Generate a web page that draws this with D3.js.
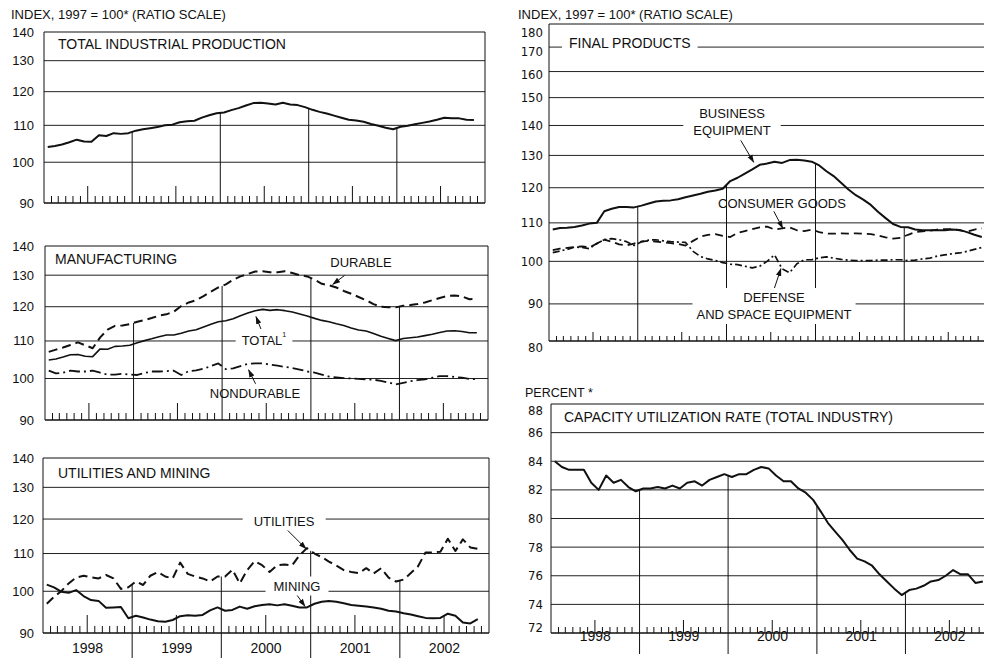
<!DOCTYPE html>
<html><head><meta charset="utf-8">
<script src="https://cdn.jsdelivr.net/npm/d3@7"></script>
<style>
body{margin:0;background:#fff}
svg{display:block}
text{font-family:"Liberation Sans",Arial,sans-serif;fill:#111}
</style>
</head><body>
<svg id="c" width="984" height="660"></svg>
<script>
// ---------------- DATA (monthly, Jan 1998 - Nov 2002) ----------------
const yearLabels = ["1998","1999","2000","2001","2002"];
const indexTicks = [90,100,110,120,130,140];
const finalTicks = [80,90,100,110,120,130,140,150,160,170,180];
const capTicks = [72,74,76,78,80,82,84,86,88];

const totalIP = [104.0,104.3,104.7,105.3,106.0,105.5,105.4,107.2,107.0,107.8,
 107.6,107.8,108.5,108.9,109.2,109.5,110.0,110.2,110.9,111.2,
 111.3,112.2,112.9,113.5,113.7,114.4,115.0,115.8,116.5,116.6,
 116.4,116.1,116.6,116.1,115.9,115.3,114.5,113.9,113.4,112.8,
 112.2,111.6,111.4,111.0,110.4,109.9,109.3,108.9,109.6,109.9,
 110.3,110.7,111.1,111.6,112.2,112.0,112.0,111.6,111.5];

const mfgDurable = [107.0,107.6,108.2,108.9,109.6,108.8,108.0,111.0,113.2,114.3,
 114.4,114.8,115.5,116.0,116.6,117.3,117.7,118.5,120.2,121.3,
 122.0,123.3,124.7,126.0,127.0,128.5,129.6,130.4,131.2,131.3,
 131.0,131.0,131.3,130.7,130.0,129.6,128.5,127.2,126.7,126.0,
 124.9,124.0,123.0,122.0,120.8,120.0,119.8,119.8,120.3,120.5,
 120.8,121.3,122.0,122.7,123.3,123.5,123.2,122.3,122.4];

const mfgTotal = [104.8,105.1,105.6,106.2,106.3,105.8,105.7,107.8,107.7,108.5,
 108.6,108.8,109.5,110.1,110.6,111.2,111.7,111.7,112.2,112.8,
 113.2,114.0,114.8,115.5,115.8,116.4,117.3,118.1,118.8,119.2,
 118.9,119.1,118.8,118.4,117.8,117.2,116.5,115.9,115.5,114.9,
 114.4,113.7,113.1,112.8,112.1,111.3,110.7,110.1,110.7,110.9,
 111.1,111.5,111.9,112.4,112.8,112.9,112.7,112.3,112.3];

const mfgNondurable = [102.0,101.3,101.5,102.0,101.8,101.8,102.0,101.5,101.0,101.0,
 101.2,101.0,100.9,101.4,101.8,101.8,101.9,102.0,100.9,101.9,
 102.1,102.5,103.2,103.9,102.4,102.6,103.2,103.8,103.9,103.9,
 103.6,103.3,103.0,102.7,102.3,101.8,101.5,101.0,100.5,100.3,
 100.1,100.0,99.9,99.8,99.7,99.4,99.0,98.5,98.9,99.3,
 99.6,99.8,100.2,100.6,100.6,100.4,100.2,99.9,99.8];

const utilities = [96.9,98.6,100.0,102.0,103.5,104.0,103.6,103.3,104.2,103.3,
 100.6,101.0,102.5,101.6,104.0,105.0,103.8,103.3,107.5,104.5,
 103.8,103.3,102.5,103.8,103.8,105.6,102.0,105.5,107.9,106.8,
 105.0,106.8,107.0,106.7,109.5,111.5,110.0,109.0,107.8,106.7,
 105.5,105.0,104.7,106.0,104.6,106.0,103.5,102.5,103.0,104.7,
 106.5,110.3,110.3,110.5,114.2,110.7,114.0,111.7,111.3];

const mining = [101.7,101.0,99.9,99.6,100.3,98.8,97.8,97.6,95.9,96.0,
 96.1,93.4,94.0,93.6,93.1,92.7,92.6,93.0,93.9,94.1,
 94.0,94.2,95.3,96.0,95.2,95.4,96.2,95.7,96.3,96.6,
 96.8,96.5,96.8,96.4,96.0,96.0,96.9,97.4,97.6,97.4,
 97.0,96.6,96.4,96.2,96.0,95.7,95.2,95.0,94.6,94.3,
 93.9,93.5,93.4,93.5,94.5,94.0,92.4,92.2,93.2];

const businessEquip = [108.2,108.6,108.7,108.9,109.3,109.8,110.0,113.2,113.9,114.4,
 114.4,114.3,114.8,115.4,116.0,116.2,116.3,116.6,117.2,117.7,
 118.2,118.8,119.2,119.7,122.0,123.0,124.3,125.6,127.0,127.4,
 128.0,127.6,128.5,128.6,128.4,128.0,126.8,125.0,123.5,121.5,
 119.5,117.8,116.5,115.0,113.0,111.3,109.7,108.9,108.8,108.2,
 108.0,108.0,108.0,108.0,108.2,108.1,107.5,106.8,106.2];

const consumerGoods = [102.8,103.2,103.4,103.6,103.8,103.5,104.5,105.5,105.0,104.3,
 104.0,104.5,105.0,105.2,105.0,104.8,104.6,104.4,104.0,105.2,
 106.3,106.8,107.0,106.5,106.2,107.3,107.8,108.3,108.8,109.0,
 108.2,108.5,108.8,108.0,107.8,108.2,107.5,107.1,107.1,107.2,
 107.1,107.2,107.1,107.0,106.6,106.1,105.8,106.0,106.8,107.5,
 107.7,107.9,108.2,108.3,108.3,108.0,107.6,108.2,108.5];

const defenseSpace = [102.2,102.6,103.0,103.6,103.5,103.2,104.5,105.5,105.8,105.5,
 105.0,104.0,105.0,105.4,105.5,105.2,105.0,104.9,104.8,102.5,
 101.2,100.6,100.2,99.7,99.3,99.2,98.8,98.4,98.8,100.0,
 101.6,98.2,97.2,99.4,100.4,100.4,100.9,101.1,100.8,100.5,
 100.3,100.2,100.2,100.2,100.3,100.3,100.4,100.4,100.2,100.3,
 100.6,100.8,101.3,101.6,101.9,102.1,102.5,103.0,103.5];

const capacityUtil = [84.0,83.6,83.4,83.4,83.4,82.5,82.0,83.0,82.5,82.7,
 82.2,81.9,82.1,82.1,82.2,82.1,82.3,82.1,82.5,82.6,
 82.3,82.7,82.9,83.1,82.9,83.1,83.1,83.4,83.6,83.5,
 83.0,82.6,82.6,82.1,81.8,81.3,80.5,79.7,79.1,78.5,
 77.8,77.2,77.0,76.7,76.1,75.6,75.1,74.65,75.0,75.1,
 75.3,75.6,75.7,76.0,76.4,76.1,76.1,75.5,75.6];

// ---------------- DRAWING ----------------
const svg = d3.select("#c");
const INK = "#111";
const t0 = new Date(1998,0,1), t1 = new Date(2003,0,1);

svg.append("defs").append("marker")
  .attr("id","ah").attr("viewBox","0 0 8 6").attr("refX",7.5).attr("refY",3)
  .attr("markerWidth",8).attr("markerHeight",6).attr("markerUnits","userSpaceOnUse")
  .attr("orient","auto")
  .append("path").attr("d","M0,0.3 L8,3 L0,5.7 Z").attr("fill",INK);

const solid = null, dashed = "9,5", dashDot = "11,4,2,4", dashDotS = "7,3,2,3";

const panels = [
 { xr:[44,485], y:d3.scaleLog().domain([90,140]).range([203,32]), ticks:indexTicks,
   labelEnd:34, rightFrame:true, tS:7, tT:17,
   series:[{d:totalIP,w:2,dash:solid}],
   title:{t:"TOTAL INDUSTRIAL PRODUCTION",x:58,y:44}, labels:[] },
 { xr:[45,488], y:d3.scaleLog().domain([90,140]).range([420,246]), ticks:indexTicks,
   labelEnd:34, rightFrame:true, tS:7, tT:17,
   series:[{d:mfgDurable,w:2,dash:dashed},{d:mfgTotal,w:1.6,dash:solid},{d:mfgNondurable,w:1.8,dash:dashDot}],
   title:{t:"MANUFACTURING",x:55,y:259},
   labels:[
    {lines:["DURABLE"],cx:361,cy:262,arrow:{s:0,i:38.5,dy:-2,tx:12,ty:-9}},
    {lines:[["TOTAL","1"]],cx:264,cy:340,bg:true,arrow:{s:1,i:28.1,dy:6,tx:6,ty:15}},
    {lines:["NONDURABLE"],cx:255,cy:393,arrow:{s:2,i:27.1,dy:6,tx:7,ty:14}}
   ] },
 { xr:[43,489], y:d3.scaleLog().domain([90,140]).range([633,458]), ticks:indexTicks,
   labelEnd:34, rightFrame:true, tS:7, tT:18, years:{y:648, ext:658},
   series:[{d:utilities,w:2,dash:dashed},{d:mining,w:2,dash:solid}],
   title:{t:"UTILITIES AND MINING",x:58,y:473},
   labels:[
    {lines:["UTILITIES"],cx:284,cy:521,bg:true,padX:11,arrow:{s:0,i:34.9,dy:0,tx:-19,ty:-19}},
    {lines:["MINING"],cx:297,cy:586,bg:true,padX:8,arrow:{s:1,i:34.75,dy:-1,tx:-10,ty:-14}}
   ] },
 { xr:[549,993], y:d3.scaleLog().domain([82.1,180]).range([341,24]), ticks:finalTicks,
   labelEnd:543, narrow:true, rightFrame:false, tS:5, tT:9,
   labelDy:{180:8, 170:4, 160:3},
   series:[{d:businessEquip,w:2,dash:solid},{d:consumerGoods,w:1.8,dash:"8,5"},{d:defenseSpace,w:1.7,dash:dashDotS}],
   title:{t:"FINAL PRODUCTS",x:569,y:43},
   labels:[
    {lines:["BUSINESS","EQUIPMENT"],cx:732,cy:122,lh:17,bg:true,padX:10,arrow:{s:0,i:27.2,dy:-6,tx:-13,ty:-22}},
    {lines:["CONSUMER GOODS"],cx:782,cy:203,arrow:{s:1,i:31.1,dy:0,tx:-9,ty:-17}},
    {lines:["DEFENSE","AND SPACE EQUIPMENT"],cx:774,cy:306,lh:17,bg:true,padX:4,arrow:{s:2,i:30.85,dy:2,tx:-8,ty:24}}
   ] },
 { xr:[551,994], y:d3.scaleLinear().domain([72,88]).range([633,404]), ticks:capTicks,
   labelEnd:543, narrow:true, rightFrame:false, tS:6, tT:13, years:{y:636, ext:654},
   labelDy:{88:6, 72:-6},
   series:[{d:capacityUtil,w:2,dash:solid}],
   title:{t:"CAPACITY UTILIZATION RATE (TOTAL INDUSTRY)",x:564,y:417}, labels:[] }
];

// header texts
svg.append("text").attr("x",11).attr("y",14).attr("dominant-baseline","central")
  .attr("font-size",13).text("INDEX, 1997 = 100* (RATIO SCALE)");
svg.append("text").attr("x",518).attr("y",14).attr("dominant-baseline","central")
  .attr("font-size",13).text("INDEX, 1997 = 100* (RATIO SCALE)");
svg.append("text").attr("x",525).attr("y",393).attr("dominant-baseline","central")
  .attr("font-size",12.5).text("PERCENT *");

function bgText(g, lines, cx, cy, opts){
  const fs = opts.fs || 13, lh = opts.lh || 17, anchor = opts.anchor || "middle";
  const grp = g.append("g");
  const rect = grp.append("rect").attr("fill","#fff");
  const n = lines.length;
  lines.forEach((ln,j)=>{
    const t = grp.append("text").attr("x",cx).attr("y",cy+(j-(n-1)/2)*lh)
      .attr("text-anchor",anchor).attr("dominant-baseline","central").attr("font-size",fs);
    if (Array.isArray(ln)) {
      t.append("tspan").text(ln[0]);
      t.append("tspan").attr("font-size",fs*0.55).attr("dy",-5).text(ln[1]);
    } else t.text(ln);
  });
  if (opts.bg) {
    const b = grp.node().getBBox();
    const px = opts.padX ?? 6, py = opts.padY ?? 2;
    rect.attr("x",b.x-px).attr("y",b.y-py).attr("width",b.width+2*px).attr("height",b.height+2*py);
  } else rect.remove();
  return grp;
}

panels.forEach(p=>{
  const x = d3.scaleTime().domain([t0,t1]).range(p.xr);
  const y = p.y;
  const [yb, yt] = y.range();
  const [xl, xr] = p.xr;
  const g = svg.append("g");
  const mx = i => (x(d3.timeMonth.offset(t0,i)) + x(d3.timeMonth.offset(t0,i+1)))/2;
  const dom = y.domain();

  // grid lines
  g.selectAll(".grid").data(p.ticks.filter(v=>v>dom[0]+1e-9 && v<dom[1]-1e-9)).join("line")
    .attr("x1",xl).attr("x2",xr).attr("y1",d=>y(d)).attr("y2",d=>y(d))
    .attr("stroke","#222").attr("stroke-width",1);

  // year drop lines from top series down to axis
  [12,24,36,48].forEach(k=>{
    const v = d3.max(p.series, s=>(s.d[k-1]+s.d[k])/2);
    const xx = x(d3.timeMonth.offset(t0,k));
    g.append("line").attr("x1",xx).attr("x2",xx).attr("y1",y(v))
      .attr("y2", p.years ? p.years.ext : yb).attr("stroke",INK).attr("stroke-width",1);
  });

  // frame
  g.append("line").attr("x1",xl).attr("x2",xr).attr("y1",yt).attr("y2",yt).attr("stroke",INK);
  g.append("line").attr("x1",xl).attr("x2",xl).attr("y1",yt).attr("y2",yb).attr("stroke",INK);
  if (p.rightFrame) g.append("line").attr("x1",xr).attr("x2",xr).attr("y1",yt).attr("y2",yb).attr("stroke",INK);
  g.append("line").attr("x1",xl).attr("x2",xr).attr("y1",yb).attr("y2",yb).attr("stroke",INK).attr("stroke-width",1.4);

  // month ticks
  const mk = d3.range(1,60).filter(k=>k%12!==0);
  g.selectAll(".mt").data(mk).join("line")
    .attr("x1",k=>x(d3.timeMonth.offset(t0,k))).attr("x2",k=>x(d3.timeMonth.offset(t0,k)))
    .attr("y1",yb).attr("y2",k=>yb-(k%12===6?p.tT:p.tS))
    .attr("stroke",INK).attr("stroke-width",1);

  // y tick labels
  g.selectAll(".yl").data(p.ticks).join("text")
    .attr("x",p.labelEnd).attr("text-anchor","end").attr("dominant-baseline","central")
    .attr("font-size",13)
    .style("font-family", p.narrow ? '"Liberation Sans Narrow","DejaVu Sans Condensed","Liberation Sans",sans-serif' : null)
    .attr("y",v=>{
      if (v < dom[0]) return yb + 6;
      return y(v) + ((p.labelDy && p.labelDy[v]) || 0);
    })
    .text(v=>v);

  // year labels
  if (p.years) {
    g.selectAll(".yr").data(yearLabels).join("text")
      .attr("x",(d,i)=>(x(new Date(1998+i,0,1))+x(new Date(1999+i,0,1)))/2)
      .attr("y",p.years.y).attr("text-anchor","middle").attr("dominant-baseline","central")
      .attr("font-size",14).text(d=>d);
  }

  // title (white box interrupting grid)
  bgText(g,[p.title.t],p.title.x,p.title.y,{fs:14,anchor:"start",bg:true,padX:7,padY:2});

  // label backgrounds first
  const lab = p.labels.map(L=>bgText(g,L.lines,L.cx,L.cy,{lh:L.lh,bg:L.bg,padX:L.padX}));

  // series
  const line = d3.line().x((d,i)=>mx(i)).y(d=>y(d));
  p.series.forEach(s=>{
    g.append("path").datum(s.d).attr("d",line).attr("fill","none")
      .attr("stroke",INK).attr("stroke-width",s.w)
      .attr("stroke-linejoin","round")
      .attr("stroke-dasharray",s.dash);
  });

  // arrows
  p.labels.forEach(L=>{
    const a = L.arrow; if(!a) return;
    const s = p.series[a.s].d;
    const i0 = Math.floor(a.i), f = a.i - i0;
    const v = s[i0]*(1-f) + s[i0+1]*f;
    const tipX = mx(i0)*(1-f) + mx(i0+1)*f, tipY = y(v) + a.dy;
    g.append("line").attr("x1",tipX+a.tx).attr("y1",tipY+a.ty).attr("x2",tipX).attr("y2",tipY)
      .attr("stroke",INK).attr("stroke-width",1).attr("marker-end","url(#ah)");
  });
  lab.forEach(l=>l.raise());
});
</script>
</body></html>
